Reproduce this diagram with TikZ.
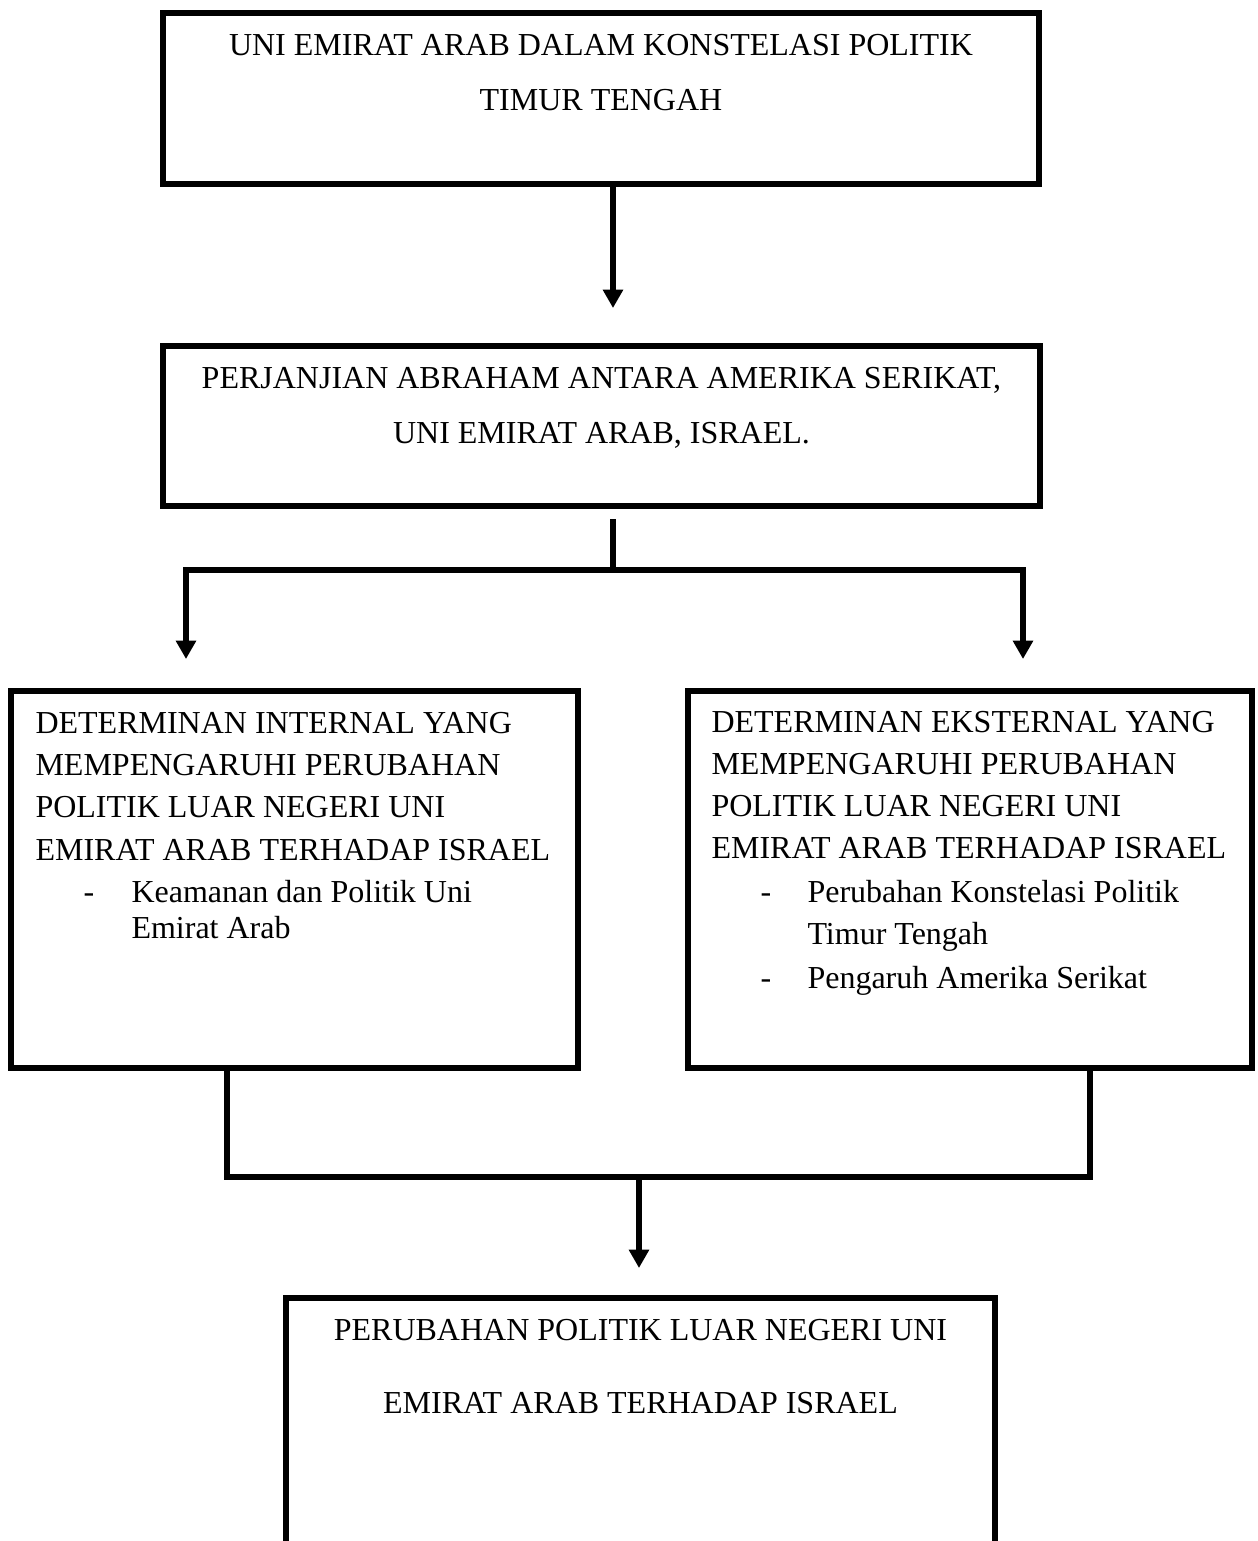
\documentclass[tikz,border=0pt]{standalone}
\usepackage{fontspec}
\setmainfont{Liberation Serif}
\usetikzlibrary{arrows.meta}

\begin{document}
\begin{tikzpicture}[x=0.375pt, y=-0.375pt,
  kotak/.style={draw, line width=2.25pt, inner sep=0pt},
  teks/.style={inner sep=0pt, font=\fontsize{12}{14}\selectfont},
  garis/.style={line width=2pt},
  panah/.style={line width=2pt, -{Triangle[width=7.3pt, length=6.9pt]}}]
  \path[use as bounding box, clip] (0,0) rectangle (1258,1541);

  \node[kotak, minimum width=328.5pt, minimum height=64.1pt] (uea) at (601,98.5) {};
  \node[teks, anchor=base] (uea1) at (601,55) {UNI EMIRAT ARAB DALAM KONSTELASI POLITIK};
  \node[teks, anchor=base] (uea2) at (601,110) {TIMUR TENGAH};

  \node[kotak, minimum width=328.9pt, minimum height=60pt] (abraham) at (601.5,426) {};
  \node[teks, anchor=base] (abraham1) at (601.5,388) {PERJANJIAN ABRAHAM ANTARA AMERIKA SERIKAT,};
  \node[teks, anchor=base] (abraham2) at (601.5,443) {UNI EMIRAT ARAB, ISRAEL.};

  \node[kotak, minimum width=212.6pt, minimum height=141.4pt] (internal) at (294.5,879.5) {};
  \node[teks, anchor=base west] (int1) at (35,733) {DETERMINAN INTERNAL YANG};
  \node[teks, anchor=base west] (int2) at (35,775) {MEMPENGARUHI PERUBAHAN};
  \node[teks, anchor=base west] (int3) at (35,817) {POLITIK LUAR NEGERI UNI};
  \node[teks, anchor=base west] (int4) at (35,860) {EMIRAT ARAB TERHADAP ISRAEL};
  \node[teks, anchor=base west] (intd1) at (83,902) {-};
  \node[teks, anchor=base west] (intb1) at (131,902) {Keamanan dan Politik Uni};
  \node[teks, anchor=base west] (intb2) at (131,938) {Emirat Arab};

  \node[kotak, minimum width=211.5pt, minimum height=141.4pt] (eksternal) at (970,879.5) {};
  \node[teks, anchor=base west] (eks1) at (711,732) {DETERMINAN EKSTERNAL YANG};
  \node[teks, anchor=base west] (eks2) at (711,774) {MEMPENGARUHI PERUBAHAN};
  \node[teks, anchor=base west] (eks3) at (711,816) {POLITIK LUAR NEGERI UNI};
  \node[teks, anchor=base west] (eks4) at (711,858) {EMIRAT ARAB TERHADAP ISRAEL};
  \node[teks, anchor=base west] (eksd1) at (760,902) {-};
  \node[teks, anchor=base west] (eksb1) at (807,902) {Perubahan Konstelasi Politik};
  \node[teks, anchor=base west] (eksb2) at (807,944) {Timur Tengah};
  \node[teks, anchor=base west] (eksd2) at (760,988) {-};
  \node[teks, anchor=base west] (eksb3) at (807,988) {Pengaruh Amerika Serikat};

  \node[kotak, minimum width=265.9pt, minimum height=120.75pt] (perubahan) at (640.5,1459) {};
  \node[teks, anchor=base] (per1) at (640.5,1340) {PERUBAHAN POLITIK LUAR NEGERI UNI};
  \node[teks, anchor=base] (per2) at (640.5,1413) {EMIRAT ARAB TERHADAP ISRAEL};

  \coordinate (u1) at (613,308);
  \draw[panah] (uea.south -| u1) -- (u1);

  \coordinate (p0) at (613,519);
  \coordinate (p1) at (613,570);
  \coordinate (kiri) at (186,659);
  \coordinate (kanan) at (1023,659);
  \draw[garis] (p0) -- (p1);
  \draw[panah] (p1) -| (kiri);
  \draw[panah] (p1) -| (kanan);

  \coordinate (g1) at (227,1177);
  \coordinate (g2) at (1090,1177);
  \coordinate (m) at (639,1177);
  \coordinate (u3) at (639,1268);
  \draw[garis] (internal.south -| g1) -- (g1) -- (g2) -- (eksternal.south -| g2);
  \draw[panah] (m) -- (u3);
\end{tikzpicture}
\end{document}
